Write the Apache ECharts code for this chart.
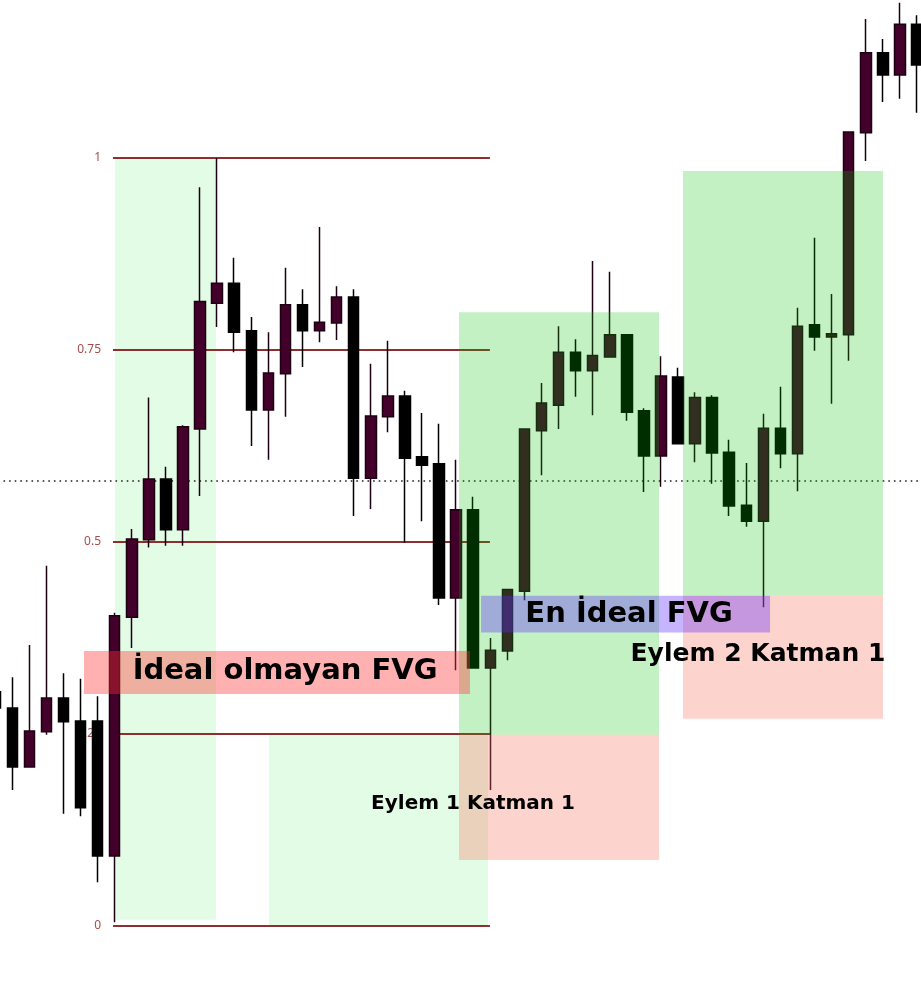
<!DOCTYPE html>
<html>
<head>
<meta charset="utf-8">
<title>FVG</title>
<script src="https://cdn.jsdelivr.net/npm/echarts@6/dist/echarts.min.js"></script>
<style>
  html, body { margin: 0; padding: 0; background: #fff; }
  #chart { width: 921px; height: 988px; }
</style>
</head>
<body>
<div id="chart"></div>
<script>
// candles, price in fib units (0 = swing low, 1 = swing high)
const opens = [0.305, 0.284, 0.207, 0.253, 0.297, 0.267, 0.267, 0.091, 0.402, 0.503, 0.582, 0.516, 0.647, 0.811, 0.837, 0.775, 0.672, 0.719, 0.809, 0.775,
  0.785, 0.819, 0.583, 0.663, 0.690, 0.611, 0.602, 0.427, 0.542, 0.336, 0.358, 0.436, 0.645, 0.678, 0.747, 0.723, 0.741, 0.770, 0.671, 0.612,
  0.715, 0.628, 0.688, 0.617, 0.548, 0.527, 0.648, 0.615, 0.783, 0.767, 0.770, 1.033, 1.137, 1.108, 1.174];
const closes = [0.284, 0.207, 0.254, 0.297, 0.266, 0.154, 0.091, 0.404, 0.504, 0.582, 0.516, 0.650, 0.813, 0.837, 0.773, 0.672, 0.720, 0.809, 0.775, 0.786,
  0.819, 0.583, 0.664, 0.690, 0.609, 0.600, 0.427, 0.542, 0.336, 0.359, 0.438, 0.647, 0.681, 0.747, 0.723, 0.743, 0.770, 0.669, 0.612, 0.716,
  0.628, 0.688, 0.616, 0.547, 0.527, 0.648, 0.615, 0.781, 0.767, 0.771, 1.034, 1.137, 1.108, 1.174, 1.121];
const lows = [0.268, 0.177, 0.207, 0.249, 0.146, 0.143, 0.057, 0.005, 0.362, 0.493, 0.495, 0.495, 0.560, 0.780, 0.747, 0.625, 0.607, 0.663, 0.728, 0.760,
  0.763, 0.534, 0.543, 0.643, 0.499, 0.527, 0.418, 0.333, 0.336, 0.177, 0.346, 0.424, 0.587, 0.647, 0.689, 0.665, 0.741, 0.658, 0.565, 0.572,
  0.628, 0.604, 0.576, 0.534, 0.520, 0.415, 0.596, 0.566, 0.749, 0.680, 0.736, 0.996, 1.073, 1.077, 1.059];
const highs = [0.320, 0.324, 0.366, 0.469, 0.329, 0.322, 0.299, 0.408, 0.517, 0.688, 0.598, 0.652, 0.962, 1.000, 0.870, 0.793, 0.773, 0.857, 0.829, 0.910,
  0.833, 0.829, 0.732, 0.762, 0.697, 0.668, 0.654, 0.607, 0.559, 0.375, 0.439, 0.647, 0.707, 0.781, 0.764, 0.866, 0.852, 0.770, 0.674, 0.742,
  0.727, 0.695, 0.691, 0.633, 0.603, 0.667, 0.702, 0.805, 0.896, 0.823, 1.034, 1.181, 1.155, 1.202, 1.186];
const categories = opens.map((_, i) => 'b' + (i - 1));

// fibonacci levels
const fibLevels = [0, 0.25, 0.5, 0.75, 1];
const fibLabels = ['0', '0.25', '0.5', '0.75', '1'];
const fibFrom = 5.9, fibTo = 27.98;   // bar index span
const midLevel = 0.5794;

// zones: [fromBar, toBar, low, high]
const paleZones = [[6.02, 11.93, 0.008, 1.0], [15.04, 27.87, 0, 0.249]];
const greenZones = [[26.17, 37.89, 0.249, 0.799], [39.29, 51.01, 0.430, 0.983]];
const salmonZones = [[26.17, 37.89, 0.086, 0.249], [39.29, 51.01, 0.270, 0.430]];
const notIdealBox = [[4.2, 26.81, 0.302, 0.358]];
const idealBox = [[27.46, 44.39, 0.382, 0.430]];

// annotations: [bar, level, text]
const notes = [
  [15.98, 0.332, 'İdeal olmayan FVG'],
  [36.13, 0.405, 'En İdeal FVG'],
  [43.68, 0.353, 'Eylem 2 Katman 1'],
  [26.99, 0.159, 'Eylem 1 Katman 1']
];
const noteSizes = [29, 29, 25, 20];

const chart = echarts.init(document.getElementById('chart'));

function zoneSeries(name, zones, fill, z) {
  return {
    name: name,
    type: 'custom',
    xAxisIndex: 1,
    z: z,
    silent: true,
    encode: { x: [0, 1], y: [2, 3] },
    data: zones,
    renderItem: function (params, api) {
      const p0 = api.coord([api.value(0), api.value(3)]);
      const p1 = api.coord([api.value(1), api.value(2)]);
      return {
        type: 'rect',
        shape: { x: p0[0], y: p0[1], width: p1[0] - p0[0], height: p1[1] - p0[1] },
        style: { fill: fill }
      };
    }
  };
}

const options = {
  animation: false,
  grid: { left: -13.3, width: 938.85, top: 0, height: 988, containLabel: false, outerBoundsMode: 'none' },
  xAxis: [
    { type: 'category', data: categories, show: false },
    { type: 'value', min: -1.5, max: 53.5, show: false }
  ],
  yAxis: { type: 'value', min: -0.080729, max: 1.205729, show: false, splitLine: { show: false } },
  series: [
    zoneSeries('pale', paleZones, 'rgba(0,230,30,0.11)', 1),
    {
      name: 'fib',
      type: 'custom',
      xAxisIndex: 1,
      z: 2,
      silent: true,
      encode: { y: 0 },
      data: fibLevels.map(l => [l]),
      renderItem: function (params, api) {
        const lvl = api.value(0);
        const a = api.coord([fibFrom, lvl]);
        const b = api.coord([fibTo, lvl]);
        return {
          type: 'group',
          children: [
            { type: 'line', shape: { x1: a[0], y1: a[1], x2: b[0], y2: b[1] },
              style: { stroke: '#8b2f2f', lineWidth: 2 } },
            { type: 'text', x: a[0] - 12, y: a[1],
              style: { text: fibLabels[params.dataIndex], fill: '#a84c4c', fontSize: 12,
                fontFamily: 'Noto Sans', align: 'right', verticalAlign: 'middle' } }
          ]
        };
      }
    },
    {
      name: 'mid',
      type: 'custom',
      xAxisIndex: 1,
      z: 2,
      silent: true,
      encode: { y: 0 },
      data: [[midLevel]],
      renderItem: function (params, api) {
        const a = api.coord([-1.5, api.value(0)]);
        const b = api.coord([53.5, api.value(0)]);
        return {
          type: 'line',
          shape: { x1: a[0], y1: a[1], x2: b[0], y2: b[1] },
          style: { stroke: '#222', lineWidth: 1.5, lineDash: [1.6, 4] }
        };
      }
    },
    {
      name: 'price',
      type: 'candlestick',
      z: 3,
      barWidth: 11,
      data: opens.map((o, i) => [o, closes[i], lows[i], highs[i]]),
      itemStyle: {
        color: '#42002a',
        color0: '#000000',
        borderColor: '#1c0011',
        borderColor0: '#000000',
        borderWidth: 1.5
      }
    },
    zoneSeries('green', greenZones, 'rgba(0,196,0,0.235)', 4),
    zoneSeries('salmon', salmonZones, 'rgba(245,110,90,0.3)', 4),
    zoneSeries('notIdeal', notIdealBox, 'rgba(255,50,50,0.38)', 5),
    zoneSeries('ideal', idealBox, 'rgba(95,41,255,0.35)', 5),
    {
      name: 'notes',
      type: 'custom',
      xAxisIndex: 1,
      z: 6,
      silent: true,
      encode: { x: 0, y: 1 },
      data: notes.map(n => [n[0], n[1]]),
      renderItem: function (params, api) {
        const p = api.coord([api.value(0), api.value(1)]);
        return {
          type: 'text',
          x: p[0],
          y: p[1],
          style: {
            text: notes[params.dataIndex][2],
            fill: '#000',
            fontSize: noteSizes[params.dataIndex],
            fontWeight: 700,
            fontFamily: 'DejaVu Sans',
            align: 'center',
            verticalAlign: 'middle'
          }
        };
      }
    }
  ]
};

chart.setOption(options);
window.addEventListener('resize', () => {
  if (chart) {
    chart.resize();
  }
});
</script>
</body>
</html>
